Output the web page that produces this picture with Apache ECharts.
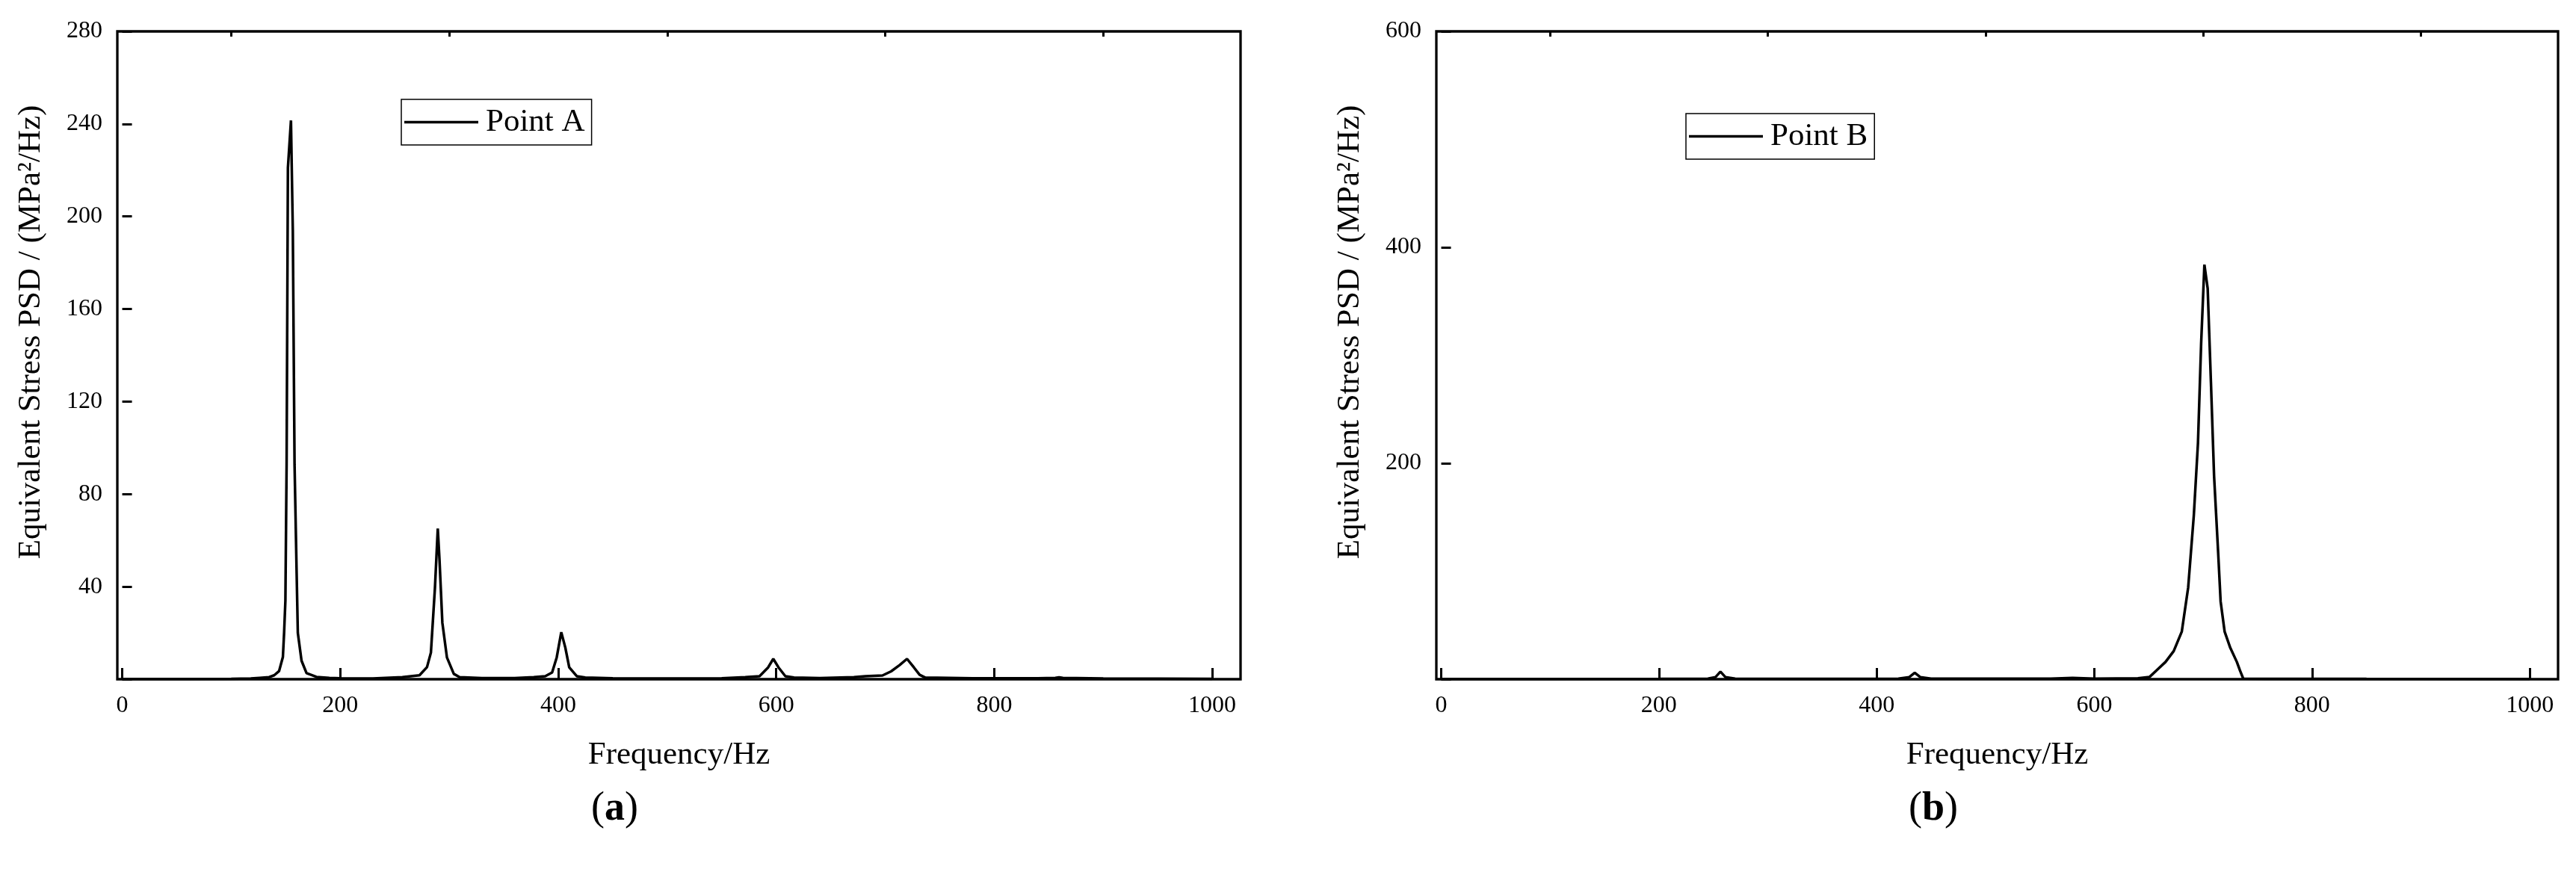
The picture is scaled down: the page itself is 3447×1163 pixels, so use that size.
<!DOCTYPE html>
<html>
<head>
<meta charset="utf-8">
<script src="https://cdn.jsdelivr.net/npm/echarts@6/dist/echarts.min.js"></script>
<style>
  html, body { margin: 0; padding: 0; background: #fff; }
  #main { width: 3447px; height: 1163px; }
</style>
</head>
<body>
<div id="main"></div>
<script>
// Point A 频率 / 应力PSD
var freqA = [0, 60, 100, 118, 126, 134.8, 139.4, 143.9, 147.4, 148.5, 149.7, 150.8, 152.0, 154.8, 156.5, 158.1, 160, 161.1, 164.5, 169.1, 178.2, 190, 200, 230,
  257, 272.7, 279.6, 283.2, 286.9, 289.5, 291.1, 293.7, 297.9, 304.2, 309.5, 330, 360,
  377.6, 388.1, 394.4, 398.6, 402.8, 406.5, 410.1, 417, 424.8, 450, 500, 550,
  571.6, 584.7, 592.6, 597.3, 602.1, 608.4, 616.3, 640,
  671.3, 681.8, 697.5, 705.4, 713.2, 720, 726.3, 731.6, 736.8, 780, 840, 856, 859.5, 863, 900, 1000];
var psdA = [0.1, 0.1, 0.2, 0.3, 0.6, 0.9, 1.7, 3.5, 9.6, 20, 34, 92.8, 221, 241.5, 194, 92.8, 46, 20, 8, 2.6, 1, 0.6, 0.4, 0.3,
  0.9, 1.7, 5.2, 11.5, 39.5, 65.1, 51.4, 24.4, 9.4, 2.3, 0.9, 0.5, 0.5,
  0.9, 1.3, 2.9, 9.4, 20.3, 13.7, 5.1, 1.3, 0.7, 0.4, 0.3, 0.4,
  0.9, 1.3, 5.1, 8.8, 5.1, 1.3, 0.7, 0.5,
  0.9, 1.3, 1.6, 3.4, 6.1, 8.8, 5.1, 1.9, 0.7, 0.4, 0.4, 0.6, 0.8, 0.6, 0.3, 0.2];

// Point B
var freqB = [0, 100, 200, 245, 252, 256.5, 261, 270, 350, 420, 430, 435, 440, 450, 560, 580, 600, 640,
  650.6, 658, 665.4, 672.9, 680.3, 686.2, 691.4, 695.2, 698.1, 701.1, 704.1, 707.1, 710, 713.8, 716, 719.7, 724.9, 730.9, 733.8, 736.8, 760, 850, 1000];
var psdB = [0.2, 0.2, 0.3, 0.6, 2, 7, 2, 0.6, 0.4, 0.6, 2, 6, 2, 0.6, 0.5, 1.2, 0.6, 0.9,
  2, 9, 16, 26, 44, 85, 152, 219, 311, 384, 362, 275, 188, 116, 72, 44, 29, 16, 8, 0.5, 0.4, 0.3, 0.2];

var xMajorTicks = [0, 200, 400, 600, 800, 1000];
var xMinorTicks = [100, 300, 500, 700, 900];

var FONT = 'Liberation Serif';

function pairs(xs, ys) {
  var out = [];
  for (var i = 0; i < xs.length; i++) out.push([xs[i], ys[i]]);
  return out;
}

function majorX(grid) {
  return {
    type: 'value', gridIndex: grid, min: -4.5, max: 1026,
    name: 'Frequency/Hz', nameLocation: 'middle', nameGap: 80,
    nameTextStyle: { fontFamily: FONT, fontSize: 43, color: '#000' },
    axisLine: { show: false },
    splitLine: { show: false },
    axisTick: { inside: true, length: 15, customValues: xMajorTicks, lineStyle: { color: '#000', width: 3 } },
    axisLabel: {
      customValues: xMajorTicks, margin: 20, fontFamily: FONT, fontSize: 32, color: '#000',
      formatter: function (v) { return String(v); }
    }
  };
}
function minorX(grid) {
  return {
    type: 'value', gridIndex: grid, min: -4.5, max: 1026,
    axisLine: { show: false },
    splitLine: { show: false },
    axisTick: { inside: true, length: 7, customValues: xMinorTicks, lineStyle: { color: '#000', width: 3 } },
    axisLabel: { show: false }
  };
}
function yAx(grid, max, step) {
  return {
    type: 'value', gridIndex: grid, min: 0, max: max, interval: step,
    name: 'Equivalent Stress PSD / (MPa²/Hz)', nameLocation: 'middle', nameGap: 94,
    nameTextStyle: { fontFamily: FONT, fontSize: 43, color: '#000', padding: [0, 0, 0, 62] },
    axisLine: { show: false },
    splitLine: { show: false },
    axisTick: { inside: true, length: 13, lineStyle: { color: '#000', width: 3 } },
    axisLabel: {
      margin: 20, fontFamily: FONT, fontSize: 32, color: '#000',
      formatter: function (v) { return v === 0 ? '' : String(v); }
    }
  };
}
function legendAt(name, left, top) {
  return {
    data: [{ name: name, icon: 'rect' }], left: left, top: top, orient: 'horizontal',
    borderColor: '#000', borderWidth: 1.5, padding: [9, 9, 9, 4],
    itemWidth: 99, itemHeight: 3.5,
    itemStyle: { color: '#000', borderWidth: 0 },
    textStyle: { fontFamily: FONT, fontSize: 43, color: '#000', padding: [0, 0, 0, 5] }
  };
}

var myChart = echarts.init(document.getElementById('main'));
myChart.setOption({
  backgroundColor: '#fff',
  animation: false,
  grid: [
    { left: 157, top: 42, width: 1503, height: 867, show: true, borderColor: '#000', borderWidth: 3.3 },
    { left: 1922, top: 42, width: 1501, height: 867, show: true, borderColor: '#000', borderWidth: 3.3 }
  ],
  xAxis: [majorX(0), minorX(0), majorX(1), minorX(1)],
  yAxis: [yAx(0, 280, 40), yAx(1, 600, 200)],
  legend: [legendAt('Point A', 537, 133), legendAt('Point B', 2256, 152)],
  graphic: [
    { type: 'text', left: 791, top: 1056, style: { text: '{p|(}{b|a}{p|)}', rich: { p: { fontFamily: FONT, fontSize: 54, fill: '#000' }, b: { fontFamily: FONT, fontSize: 54, fontWeight: 'bold', fill: '#000' } } } },
    { type: 'text', left: 2554, top: 1056, style: { text: '{p|(}{b|b}{p|)}', rich: { p: { fontFamily: FONT, fontSize: 54, fill: '#000' }, b: { fontFamily: FONT, fontSize: 54, fontWeight: 'bold', fill: '#000' } } } }
  ],
  series: [
    {
      name: 'Point A', type: 'line', xAxisIndex: 0, yAxisIndex: 0,
      symbol: 'none', showSymbol: false,
      lineStyle: { color: '#000', width: 3.5 }, itemStyle: { color: '#000' },
      data: pairs(freqA, psdA)
    },
    {
      name: 'Point B', type: 'line', xAxisIndex: 2, yAxisIndex: 1,
      symbol: 'none', showSymbol: false,
      lineStyle: { color: '#000', width: 3.5 }, itemStyle: { color: '#000' },
      data: pairs(freqB, psdB)
    }
  ]
});
</script>
</body>
</html>
